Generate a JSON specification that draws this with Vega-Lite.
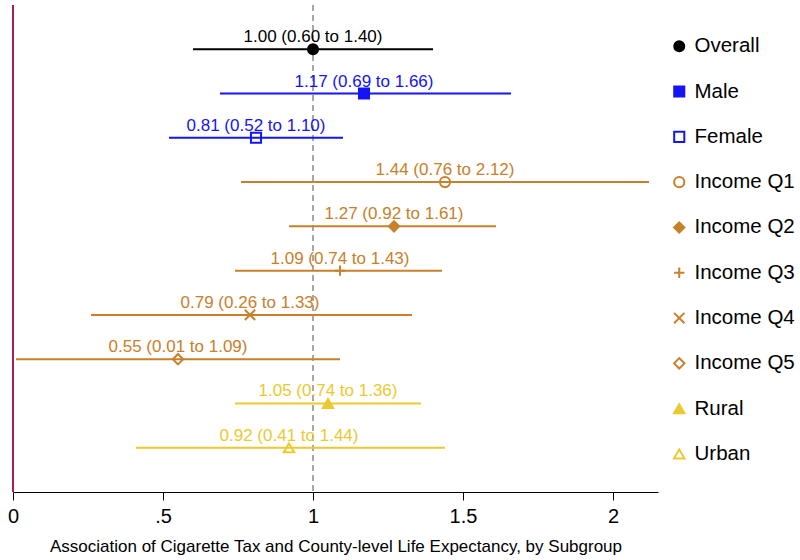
{
  "$schema": "https://vega.github.io/schema/vega-lite/v6.json",
  "width": 645,
  "height": 487,
  "autosize": {"type": "none"},
  "padding": {"left": 13, "top": 5, "right": 142, "bottom": 68},
  "background": "white",
  "config": {"view": {"stroke": null}, "font": "Liberation Sans"},
  "data": {
    "values": [
      {"row": 1, "group": "Overall", "est": 1.00, "lo": 0.60, "hi": 1.40, "label": "1.00 (0.60 to 1.40)"},
      {"row": 2, "group": "Male", "est": 1.17, "lo": 0.69, "hi": 1.66, "label": "1.17 (0.69 to 1.66)"},
      {"row": 3, "group": "Female", "est": 0.81, "lo": 0.52, "hi": 1.10, "label": "0.81 (0.52 to 1.10)"},
      {"row": 4, "group": "Income Q1", "est": 1.44, "lo": 0.76, "hi": 2.12, "label": "1.44 (0.76 to 2.12)"},
      {"row": 5, "group": "Income Q2", "est": 1.27, "lo": 0.92, "hi": 1.61, "label": "1.27 (0.92 to 1.61)"},
      {"row": 6, "group": "Income Q3", "est": 1.09, "lo": 0.74, "hi": 1.43, "label": "1.09 (0.74 to 1.43)"},
      {"row": 7, "group": "Income Q4", "est": 0.79, "lo": 0.26, "hi": 1.33, "label": "0.79 (0.26 to 1.33)"},
      {"row": 8, "group": "Income Q5", "est": 0.55, "lo": 0.01, "hi": 1.09, "label": "0.55 (0.01 to 1.09)"},
      {"row": 9, "group": "Rural", "est": 1.05, "lo": 0.74, "hi": 1.36, "label": "1.05 (0.74 to 1.36)"},
      {"row": 10, "group": "Urban", "est": 0.92, "lo": 0.41, "hi": 1.44, "label": "0.92 (0.41 to 1.44)"}
    ]
  },
  "layer": [
    {
      "data": {"values": [{"ref": 0}]},
      "mark": {"type": "rule", "color": "#A51E55", "strokeWidth": 2},
      "encoding": {"x": {"field": "ref", "type": "quantitative"}}
    },
    {
      "data": {"values": [{"ref": 1}]},
      "mark": {"type": "rule", "color": "#8A8A8A", "strokeWidth": 1.5, "strokeDash": [6, 4]},
      "encoding": {"x": {"field": "ref", "type": "quantitative"}}
    },
    {
      "mark": {"type": "rule", "strokeWidth": 2},
      "encoding": {
        "y": {"field": "row", "type": "quantitative", "scale": {"domain": [0, 11], "reverse": true, "nice": false, "zero": false}, "axis": null},
        "x": {"field": "lo", "type": "quantitative"},
        "x2": {"field": "hi"},
        "stroke": {"field": "group", "type": "nominal"}
      }
    },
    {
      "mark": {"type": "text", "fontSize": 17, "align": "center", "baseline": "alphabetic", "dy": -7},
      "encoding": {
        "y": {"field": "row", "type": "quantitative"},
        "x": {"field": "est", "type": "quantitative"},
        "text": {"field": "label"},
        "color": {"field": "label", "type": "nominal", "legend": null,
          "scale": {"domain": ["1.00 (0.60 to 1.40)", "1.17 (0.69 to 1.66)", "0.81 (0.52 to 1.10)", "1.44 (0.76 to 2.12)", "1.27 (0.92 to 1.61)", "1.09 (0.74 to 1.43)", "0.79 (0.26 to 1.33)", "0.55 (0.01 to 1.09)", "1.05 (0.74 to 1.36)", "0.92 (0.41 to 1.44)"],
                    "range": ["#000000", "#1414F5", "#1414F5", "#C8802A", "#C8802A", "#C8802A", "#C8802A", "#C8802A", "#ECC92E", "#ECC92E"]}}
      }
    },
    {
      "mark": {"type": "point", "strokeWidth": 2, "opacity": 1},
      "encoding": {
        "y": {"field": "row", "type": "quantitative"},
        "x": {"field": "est", "type": "quantitative",
          "scale": {"domain": [0, 2.15], "nice": false, "zero": false},
          "axis": {"values": [0, 0.5, 1, 1.5, 2], "labelExpr": "datum.value == 0.5 ? '.5' : datum.value == 1.5 ? '1.5' : format(datum.value, 'd')",
                   "grid": false, "domainColor": "#000000", "tickColor": "#000000", "tickSize": 8, "labelPadding": 6,
                   "labelFontSize": 20, "labelColor": "#000000", "labelFlush": false,
                   "title": "Association of Cigarette Tax and County-level Life Expectancy, by Subgroup",
                   "titleFontSize": 17, "titleFontWeight": "normal", "titleColor": "#000000", "titlePadding": 12}},
        "shape": {"field": "group", "type": "nominal",
          "scale": {"domain": ["Overall", "Male", "Female", "Income Q1", "Income Q2", "Income Q3", "Income Q4", "Income Q5", "Rural", "Urban"],
                    "range": ["circle", "square", "square", "circle", "diamond", "M-1,0L1,0M0,-1L0,1", "M-1,-1L1,1M-1,1L1,-1", "diamond", "triangle-up", "triangle-up"]},
          "legend": {"title": null, "orient": "none", "legendX": 656, "legendY": 31, "padding": 0,
                     "labelFontSize": 20.5, "labelColor": "#000000", "labelOffset": 5, "rowPadding": 24.3,
                     "symbolStrokeWidth": 2, "labelLimit": 200}},
        "stroke": {"field": "group", "type": "nominal",
          "scale": {"domain": ["Overall", "Male", "Female", "Income Q1", "Income Q2", "Income Q3", "Income Q4", "Income Q5", "Rural", "Urban"],
                    "range": ["#000000", "#1414F5", "#1414F5", "#C8802A", "#C8802A", "#C8802A", "#C8802A", "#C8802A", "#ECC92E", "#ECC92E"]}},
        "fill": {"field": "group", "type": "nominal",
          "scale": {"domain": ["Overall", "Male", "Female", "Income Q1", "Income Q2", "Income Q3", "Income Q4", "Income Q5", "Rural", "Urban"],
                    "range": ["#000000", "#1414F5", "transparent", "transparent", "#C8802A", "transparent", "transparent", "transparent", "#ECC92E", "transparent"]}},
        "size": {"field": "group", "type": "nominal",
          "scale": {"domain": ["Overall", "Male", "Female", "Income Q1", "Income Q2", "Income Q3", "Income Q4", "Income Q5", "Rural", "Urban"],
                    "range": [100, 110, 80, 70, 250, 90, 70, 200, 140, 110]}}
      }
    }
  ]
}
